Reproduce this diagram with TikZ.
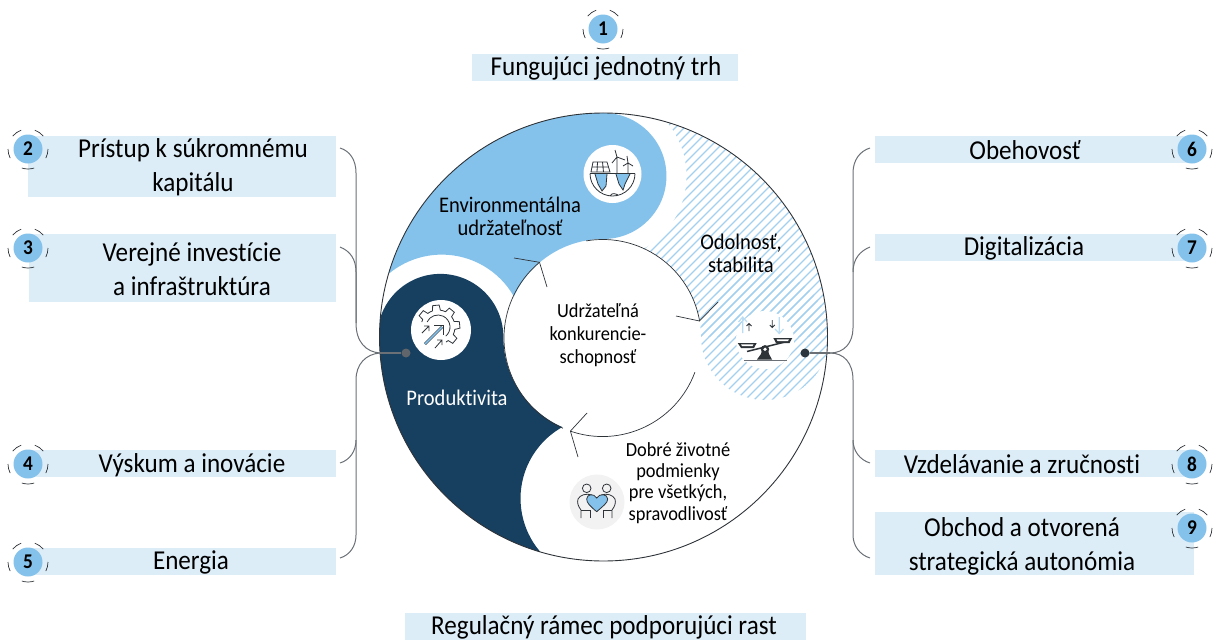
\documentclass[tikz,border=0pt]{standalone}
\usepackage{fontspec}
\setmainfont[Ligatures=NoCommon,FakeStretch=0.92]{Carlito}
\definecolor{navy}{HTML}{173F60}
\definecolor{sky}{HTML}{85C2EB}
\definecolor{pale}{HTML}{DCEDF8}
\definecolor{hatchc}{HTML}{A3D0EF}
\definecolor{ink}{HTML}{2E3338}
\definecolor{conn}{HTML}{6A7076}
\definecolor{lightarrow}{HTML}{BBDDF3}
\tikzset{
  box/.style={fill=pale,inner sep=0pt},
  lbl/.style={inner sep=0pt,align=center,font=\fontsize{27.3}{34}\selectfont,text=black},
  inlbl/.style={inner sep=0pt,align=center,font=\fontsize{22.3}{23}\selectfont,text=black},
  inlblb/.style={inner sep=0pt,align=center,font=\fontsize{20}{23}\selectfont,text=black},
  badge/.style={circle,fill=sky,minimum size=29pt,inner sep=0pt,font=\fontsize{21}{21}\selectfont\bfseries},
  ringarc/.style={draw=ink,line width=0.7pt},
  cline/.style={draw=conn,line width=1pt},
  rim/.style={draw=ink,line width=0.9pt},
  iconline/.style={draw=ink,line width=0.8pt},
  dotn/.style={circle,inner sep=0pt,minimum size=9pt},
}
\newcommand{\hatchset}{\foreach \c in {740,749,...,1250}{\draw[hatchc,line width=1.3pt] ({\c-90},90) -- ({\c-430},430);}}
\newcommand{\myring}[1]{%
  \begin{scope}[shift={(#1)}]
    \draw[ringarc] (0:20) arc[start angle=0,end angle=27,radius=20];
    \draw[ringarc] (72:20) arc[start angle=72,end angle=108,radius=20];
    \draw[ringarc] (153:20) arc[start angle=153,end angle=180,radius=20];
    \draw[ringarc] (-40:20) arc[start angle=-40,end angle=-70,radius=20];
    \draw[ringarc] (-110:20) arc[start angle=-110,end angle=-140,radius=20];
  \end{scope}}
\begin{document}
\begin{tikzpicture}[x=1pt,y=1pt,yscale=-1]
\useasboundingbox (0,0) rectangle (1219,640);
% hatched region
\begin{scope}
  \clip (603.5,337) circle (224);
  \begin{scope}
    \clip (640,100) rectangle (840,336);
    \hatchset
  \end{scope}
  \begin{scope}
    \clip (765,336) circle (64);
    \hatchset
  \end{scope}
  \fill[white] (603.5,176) circle (83);
  \fill[white] (765,340) circle (29);
\end{scope}
\fill[white] (602.5,338) circle (98.5);
% blue swirl
\fill[sky] (388.8,273) arc[start angle=196.6,end angle=270,radius=224]
  arc[start angle=-90,end angle=90,radius=63]
  arc[start angle=270,end angle=204.6,radius=98.5]
  arc[start angle=-29.7,end angle=-128.7,radius=83] -- cycle;
% navy swirl
\begin{scope}
  \clip (603.5,337) circle (224);
  \fill[navy] (379.5,337) arc[start angle=180,end angle=106.4,radius=224]
    arc[start angle=139.4,end angle=240.6,radius=82]
    arc[start angle=113.7,end angle=180,radius=98.5]
    arc[start angle=0,end angle=-180,radius=63] -- cycle;
\end{scope}
% outer rim
\draw[rim] (603.5,337) circle (224);
% inner ring arrows
\draw[ringarc] (562.9,428.2) arc[start angle=113.7,end angle=230.2,radius=98.5];
\coordinate (tipA) at (539.5,262.3);
\coordinate (barbA1) at (514,258);
\coordinate (barbA2) at (547,287);
\draw[ringarc] (barbA1) -- (tipA) -- (barbA2);
\draw[ringarc] (586,240.9) arc[start angle=260.3,end angle=350.1,radius=98.5];
\coordinate (tipB) at (699.5,321);
\coordinate (barbB1) at (676,316);
\coordinate (barbB2) at (718,302);
\draw[ringarc] (barbB1) -- (tipB) -- (barbB2);
\draw[ringarc] (694.9,372.2) arc[start angle=20.3,end angle=109,radius=98.5];
\coordinate (tipC) at (570.4,431.1);
\coordinate (barbC1) at (587,413);
\coordinate (barbC2) at (578,457);
\draw[ringarc] (barbC1) -- (tipC) -- (barbC2);
% boxes
\node[box,minimum width=266pt,minimum height=27pt] (b1) at (605,67.5) {};
\node[box,minimum width=401pt,minimum height=27pt] (b0) at (605.5,626.5) {};
\node[box,minimum width=308pt,minimum height=61pt] (b2) at (182,166.5) {};
\node[box,minimum width=307pt,minimum height=68pt] (b3) at (182.5,268) {};
\node[box,minimum width=308pt,minimum height=27pt] (b4) at (182,463.5) {};
\node[box,minimum width=308pt,minimum height=27pt] (b5) at (182,561.5) {};
\node[box,minimum width=317pt,minimum height=27pt] (b6) at (1033.5,149.5) {};
\node[box,minimum width=317pt,minimum height=27pt] (b7) at (1033.5,247.5) {};
\node[box,minimum width=317pt,minimum height=27pt] (b8) at (1033.5,463.5) {};
\node[box,minimum width=319pt,minimum height=63pt] (b9) at (1034.5,543.5) {};
% labels
\node[lbl] (t1) at (606,68) {Fungujúci jednotný trh};
\node[lbl] (t0) at (604,627) {Regulačný rámec podporujúci rast};
\node[lbl] (t2) at (193,167) {Prístup k súkromnému\\kapitálu};
\node[lbl] (t3) at (192,269) {Verejné investície\\a infraštruktúra};
\node[lbl] (t4) at (192,465) {Výskum a inovácie};
\node[lbl] (t5) at (191,562) {Energia};
\node[lbl] (t6) at (1025,150) {Obehovosť};
\node[lbl] (t7) at (1024,248) {Digitalizácia};
\node[lbl] (t8) at (1022,464) {Vzdelávanie a zručnosti};
\node[lbl] (t9) at (1022,546) {Obchod a otvorená\\strategická autonómia};
% inner labels
\node[inlbl] (env) at (510,216) {Environmentálna\\udržateľnosť};
\node[inlbl] (odo) at (741,253) {Odolnosť,\\stabilita};
\node[inlblb] (core) at (598,335) {Udržateľná\\konkurencie-\\schopnosť};
\node[inlbl,text=white] (pro) at (457,398) {Produktivita};
\node[inlblb,font=\fontsize{20}{21.3}\selectfont] (dob) at (678,483) {Dobré životné\\podmienky\\pre všetkých,\\spravodlivosť};
% badges
\foreach \n/\t/\p in {n1/1/{603,29},n2/2/{28,149},n3/3/{28,248},n4/4/{28,464},n5/5/{28,562},n6/6/{1192,149},n7/7/{1192,248},n8/8/{1192,464},n9/9/{1192,528}}{
  \node[badge] (\n) at (\p) {\t};
  \myring{\p}
}
% connectors left
\node[dotn,fill=conn!90!black] (dotL) at (406,353) {};
\coordinate (jL) at (380,353);
\coordinate (e2) at (340,148);
\coordinate (e3) at (340,247);
\coordinate (e4) at (340,463);
\coordinate (e5) at (340,558);
\draw[cline,line width=1.5pt] (dotL) -- (jL);
\draw[cline] (e2) .. controls (350,151) and (356,160) .. (356,173) -- (356,323) .. controls (356,342) and (366,352) .. (jL);
\draw[cline] (e3) .. controls (350,251) and (356,259) .. (356,272) -- (356,323);
\draw[cline] (jL) .. controls (366,354) and (356,364) .. (356,380) -- (356,440) .. controls (356,451) and (350,460) .. (e4);
\draw[cline] (356,440) -- (356,535) .. controls (356,546) and (350,555) .. (e5);
% connectors right
\node[dotn,fill=ink!85!navy] (dotR) at (805,353) {};
\coordinate (jR) at (830,353);
\coordinate (e6) at (870,148);
\coordinate (e7) at (870,247);
\coordinate (e8) at (870,463);
\coordinate (e9) at (870,558);
\draw[cline,line width=1.5pt] (dotR) -- (jR);
\draw[cline] (jR) .. controls (844,353) and (853,343) .. (853,328) -- (853,173) .. controls (853,160) and (860,151) .. (e6);
\draw[cline] (853,272) .. controls (853,259) and (860,251) .. (e7);
\draw[cline] (jR) .. controls (844,353) and (853,363) .. (853,380) -- (853,440) .. controls (853,451) and (860,460) .. (e8);
\draw[cline] (853,440) -- (853,535) .. controls (853,546) and (860,555) .. (e9);
% globe icon
\fill[white] (612.5,174) circle (29);
\fill[sky] (595,174) -- (607,174) -- (606,186) -- (602,191) -- (598,184) -- cycle;
\fill[sky] (616,174) -- (630,174) -- (625,184) -- (623,190) -- (619,184) -- cycle;
\draw[iconline] (595,174) -- (598,184) -- (602,191) -- (606,186) -- (607,174);
\draw[iconline] (616,174) -- (619,184) -- (623,190) -- (625,184) -- (630,174);
\draw[iconline] (590,173.5) arc[start angle=180,end angle=0,radius=22.5] ;
\draw[draw=ink,line width=1.3pt] (590,173.5) -- (635,173.5);
\draw[iconline] (610,196) .. controls (612,192) and (616,194) .. (618,195);
\draw[iconline] (593,162) -- (607,162) -- (610,172) -- (591,172) -- cycle;
\draw[iconline] (592,167) -- (608.5,167) (597.5,162) -- (597,172) (602.5,162) -- (603.5,172);
\draw[iconline] (617,173) -- (617,157) (615,150) -- (617,157) -- (625,160) (617,157) -- (612,163);
\draw[iconline] (628,173) -- (628,163) (627,156) -- (628,163) -- (633,166) (628,163) -- (623,166);
% gear icon
\fill[white] (441,330) circle (30);
\begin{scope}[shift={(438,327)}]
  \foreach \a in {197,242,287,332,377}{
    \draw[iconline] (\a:17) -- ({\a+9}:17) -- ({\a+14}:22) -- ({\a+31}:22) -- ({\a+36}:17) -- ({\a+45}:17);
  }
  \draw[iconline] (205:12) arc[start angle=205,end angle=410,radius=12];
\end{scope}
\draw[draw=ink,line width=2.6pt] (425,344) -- (442,327);
\draw[draw=sky,line width=1.6pt] (425,344) -- (442,327);
\draw[draw=ink,line width=1pt] (434,325.5) -- (443.5,325.5) -- (443.5,335);
\draw[iconline] (422,333) -- (429,326) (424,326) -- (429,326) -- (429,331);
\draw[iconline] (435,348) -- (442,340) (437,340) -- (442,340) -- (442,345);
% scale icon
\draw[draw=lightarrow,line width=1.2pt] (742.7,333) -- (742.7,317) (738.5,322) -- (742.7,317) -- (747,322);
\draw[draw=lightarrow,line width=1.2pt] (779.3,317) -- (779.3,333.5) (775,329) -- (779.3,333.5) -- (783.5,329);
\draw[iconline] (749,331) -- (749,323.5) (746.5,326) -- (749,323.5) -- (751.5,326);
\draw[iconline] (772.3,320) -- (772.3,327.5) (769.8,325) -- (772.3,327.5) -- (774.8,325);
\draw[draw=conn,line width=1.5pt] (744.3,360.7) -- (786.7,360.7);
\draw[draw=ink,line width=1.5pt] (747,351.5) -- (785,342);
\fill[ink] (737.7,343) -- (756.7,343) -- (754,348) -- (741,348) -- cycle;
\fill[white] (741,344.3) -- (753.5,344.3) -- (752.5,346) -- (742,346) -- cycle;
\fill[ink] (773.3,338) -- (792.3,338) -- (789.5,343) -- (776,343) -- cycle;
\fill[white] (776.5,339.3) -- (789,339.3) -- (788,341) -- (777.5,341) -- cycle;
\fill[ink] (757,359.5) -- (772,359.5) -- (769,354) -- (768,350) -- (762,350) -- (761,354) -- cycle;
\fill[ink] (765,349.3) circle (4.2);
\fill[white] (765,349.3) circle (1.8);
% people icon
\fill[black!5] (597,502) circle (27.5);
\draw[iconline] (586.7,488.3) circle (4.3) (606.7,488.3) circle (4.3);
\draw[iconline] (592,495) .. controls (586,493) and (580,495) .. (578,499) .. controls (577,503) and (578,506) .. (581,510) -- (581,518);
\draw[iconline] (601,495) .. controls (607,493) and (613,495) .. (615,499) .. controls (616,503) and (615,506) .. (612,510) -- (612,518);
\draw[iconline] (581,510) -- (590,510) -- (590,518) (612,510) -- (603,510) -- (603,518);
\fill[sky] (596.7,511.7) .. controls (590,506) and (586.7,503) .. (586.7,499) .. controls (586.7,494) and (594,493) .. (596.7,498) .. controls (599.5,493) and (607.7,494) .. (607.7,499) .. controls (607.7,503) and (603,506) .. (596.7,511.7);
\draw[iconline] (596.7,511.7) .. controls (590,506) and (586.7,503) .. (586.7,499) .. controls (586.7,494) and (594,493) .. (596.7,498) .. controls (599.5,493) and (607.7,494) .. (607.7,499) .. controls (607.7,503) and (603,506) .. (596.7,511.7);
\end{tikzpicture}
\end{document}
